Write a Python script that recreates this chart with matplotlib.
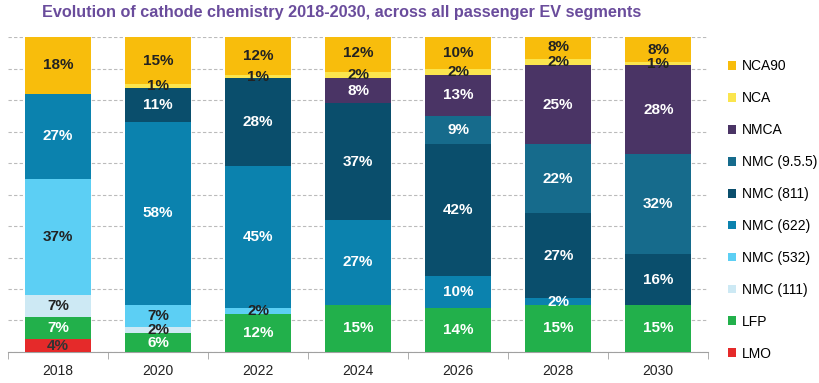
import matplotlib
matplotlib.use('Agg')
import matplotlib.pyplot as plt
import numpy as np

plt.rcParams['font.family'] = ['Liberation Sans', 'DejaVu Sans']

years = ['2018', '2020', '2022', '2024', '2026', '2028', '2030']

# shares in %, bottom to top
series = ['LMO', 'LFP', 'NMC (111)', 'NMC (532)', 'NMC (622)', 'NMC (811)',
          'NMC (9.5.5)', 'NMCA', 'NCA', 'NCA90']
lmo = [4, 0, 0, 0, 0, 0, 0]
lfp = [7, 6, 12, 15, 14, 15, 15]
nmc111 = [7, 2, 0, 0, 0, 0, 0]
nmc532 = [37, 7, 2, 0, 0, 0, 0]
nmc622 = [27, 58, 45, 27, 10, 2, 0]
nmc811 = [0, 11, 28, 37, 42, 27, 16]
nmc955 = [0, 0, 0, 0, 9, 22, 32]
nmca = [0, 0, 0, 8, 13, 25, 28]
nca = [0, 1, 1, 2, 2, 2, 1]
nca90 = [18, 15, 12, 12, 10, 8, 8]

values = [lmo, lfp, nmc111, nmc532, nmc622, nmc811, nmc955, nmca, nca, nca90]
colors = ['#E52A2A', '#22B04B', '#CDE9F4', '#5CCFF4', '#0B82AE', '#0A4E6C',
          '#166B8C', '#4A3465', '#FBE54E', '#F8BD0C']
text_colors = ['#333333', 'white', '#222222', '#222222', 'white', 'white',
               'white', 'white', '#222222', '#222222']

fig = plt.figure(figsize=(8.19, 3.83), dpi=100)
ax = fig.add_axes([0.0098, 0.081, 0.855, 0.822])

x = np.arange(len(years))
bottom = np.zeros(len(years))
handles = []
for name, vals, col, tcol in zip(series, values, colors, text_colors):
    vals = np.array(vals, dtype=float)
    b = ax.bar(x, vals, 0.66, bottom=bottom, color=col, label=name, zorder=3)
    handles.append(b)
    for xi, v, bt in zip(x, vals, bottom):
        if v > 0:
            ax.text(xi, bt + v / 2, '%d%%' % v, ha='center', va='center',
                    fontsize=11, fontweight='bold', color=tcol, zorder=4)
    bottom += vals

ax.set_xlim(-0.5, len(years) - 0.5)
ax.set_ylim(0, 100)
ax.set_yticks(np.arange(0, 101, 10))
ax.yaxis.grid(True, color='#BBBBBB', linestyle=(0, (3, 2)), linewidth=0.8, zorder=0)
ax.tick_params(axis='y', left=False, labelleft=False)

ax.set_xticks(x)
ax.set_xticklabels(years, fontsize=10, color='#222222')
ax.tick_params(axis='x', which='major', length=0, pad=9)
ax.set_xticks(np.arange(-0.5, len(years)), minor=True)
ax.tick_params(axis='x', which='minor', length=5, color='#A0A0A0')

for s in ['top', 'right', 'left']:
    ax.spines[s].set_visible(False)
ax.spines['bottom'].set_color('#A0A0A0')

fig.text(0.0513, 0.967, 'Evolution of cathode chemistry 2018-2030, across all passenger EV segments',
         fontsize=11.7, fontweight='bold', color='#6A4C9C', va='center')

leg = ax.legend(handles[::-1], series[::-1], loc='upper left',
                bbox_to_anchor=(1.02, 0.947), frameon=False, fontsize=10,
                handlelength=0.6, handleheight=0.6, handletextpad=0.4,
                labelspacing=1.29, borderaxespad=0)

fig.savefig('out.png', dpi=100)
